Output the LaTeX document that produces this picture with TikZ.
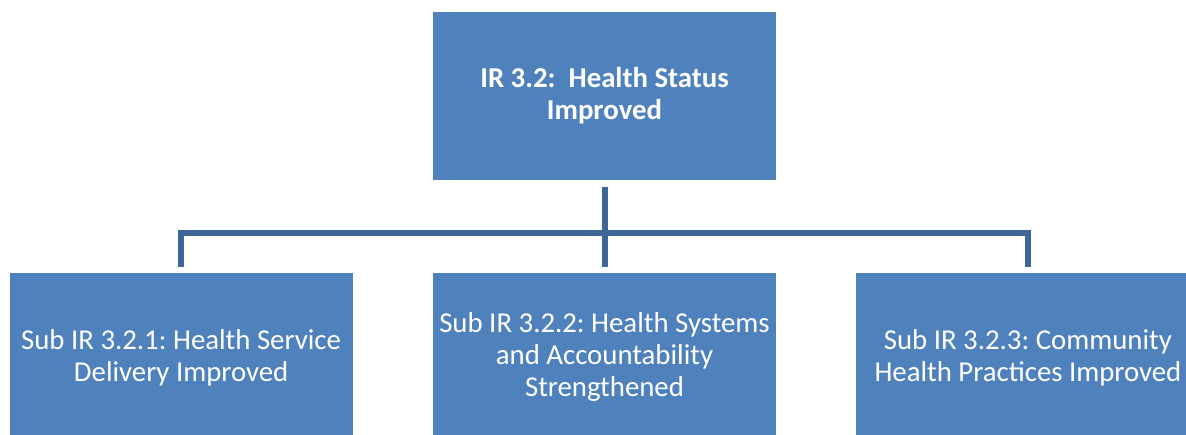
\documentclass[tikz,border=0pt]{standalone}
\usepackage{fontspec}
\setmainfont{Carlito}
\frenchspacing
\usepackage{tikz}
\usetikzlibrary{positioning, calc}
\definecolor{irblue}{HTML}{4F81BD}
\definecolor{irline}{HTML}{3D6596}

\begin{document}
\begin{tikzpicture}[x=1pt, y=1pt, node distance=80pt,
          irbox/.style={rectangle, fill=irblue, text=white, align=center, inner sep=0pt,
            minimum width=343pt, minimum height=168pt, font=\fontsize{28.8}{32}\selectfont},
          conn/.style={draw=irline, line width=6pt}]
        \useasboundingbox (0,0) rectangle (1186,-434);
        \node[irbox, font=\fontsize{28.8}{32}\selectfont\bfseries] (ir) at (604.5,-96) {IR 3.2:\ \ Health Status\\Improved};
        \node[irbox] (sub2) [below=93pt of ir] {Sub IR 3.2.2: Health Systems\\and Accountability\\Strengthened};
        \node[irbox] (sub1) [left=of sub2] {Sub IR 3.2.1: Health Service\\Delivery Improved};
        \node[irbox] (sub3) [right=of sub2] {Sub IR 3.2.3: Community\\Health Practices Improved};
        \path (ir.south) -- (sub2.north) coordinate[pos=0.57] (bus);
        \draw[conn] ([yshift=-7pt]ir.south) -- ([yshift=6pt]sub2.north);
        \draw[conn] ([yshift=6pt]sub1.north) |- (bus) -| ([yshift=6pt]sub3.north);
      \end{tikzpicture}
\end{document}
